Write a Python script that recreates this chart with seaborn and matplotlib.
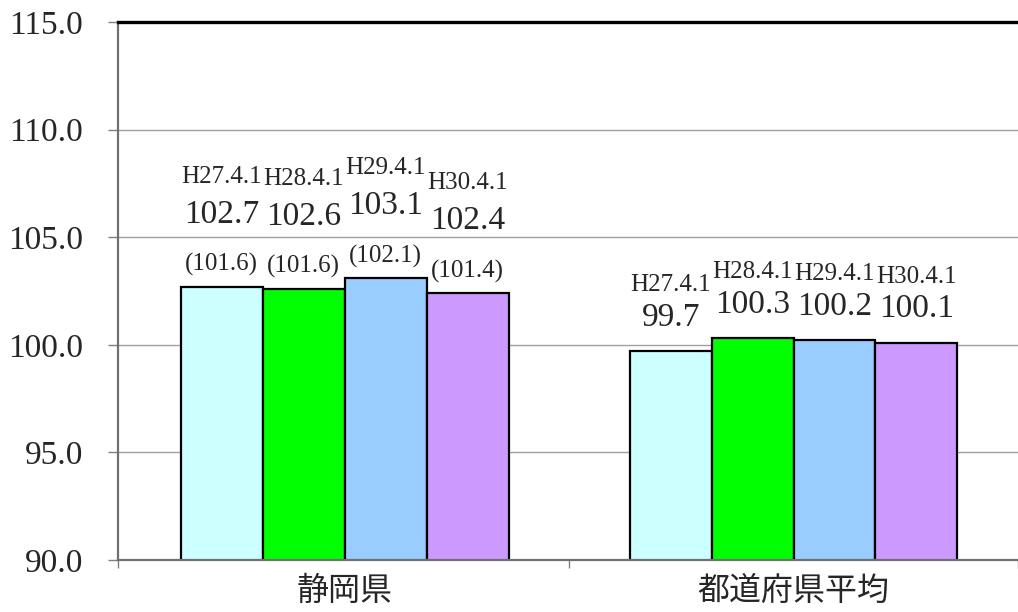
import matplotlib
matplotlib.use('Agg')
import matplotlib.pyplot as plt
import pandas as pd
import seaborn as sns

categories = ['静岡県', '都道府県平均']
dates = ['H27.4.1', 'H28.4.1', 'H29.4.1', 'H30.4.1']
shizuoka = [102.7, 102.6, 103.1, 102.4]
national = [99.7, 100.3, 100.2, 100.1]
shizuoka_paren = ['(101.6)', '(101.6)', '(102.1)', '(101.4)']
colors = ['#CCFFFF', '#00FF00', '#99CCFF', '#CC99FF']

rows = []
for d, v in zip(dates, shizuoka):
    rows.append({'cat': categories[0], 'date': d, 'value': v})
for d, v in zip(dates, national):
    rows.append({'cat': categories[1], 'date': d, 'value': v})
df = pd.DataFrame(rows)

sns.set_style('white')
plt.rcParams['font.family'] = ['Liberation Serif', 'Noto Sans CJK JP', 'DejaVu Sans']

fig = plt.figure(figsize=(10.18, 6.12), dpi=100)
ax = fig.add_axes([118 / 1018, 52 / 612, 900 / 1018, 538 / 612])

sns.barplot(data=df, x='cat', y='value', hue='date', palette=colors, saturation=1,
            width=0.73, edgecolor='black', linewidth=1.6, legend=False, ax=ax)

# axis runs past the right edge of the picture (second category cut)
x_lo, x_hi = -0.505, 1.473
ax.set_ylim(90, 115)
ax.set_xlim(x_lo, x_hi)
ax.set_yticks([90, 95, 100, 105, 110, 115])
ax.set_yticklabels(['%.1f' % t for t in [90, 95, 100, 105, 110, 115]], fontsize=24)
ax.yaxis.grid(True, color='#A0A0A0', linewidth=1)
ax.set_axisbelow(True)
ax.tick_params(axis='y', length=7, width=1, color='#808080', pad=18, left=True)

# category labels + boundary ticks
ax.set_xticks([0, 1])
ax.set_xticklabels(categories, fontsize=23, family=['Noto Sans CJK JP'])
ax.tick_params(axis='x', which='major', length=0, pad=11)
ax.set_xticks([x_lo, 0.5, 1.5], minor=True)
ax.tick_params(axis='x', which='minor', length=6, width=1, color='#808080', bottom=True)
ax.set_xlabel('')
ax.set_ylabel('')

for s in ['left', 'bottom']:
    ax.spines[s].set_color('#707070')
    ax.spines[s].set_linewidth(1.6)
ax.spines['top'].set_color('black')
ax.spines['top'].set_linewidth(2.4)
ax.spines['right'].set_visible(False)

# labels above bars
for i, cont in enumerate(ax.containers):
    for j, bar in enumerate(cont):
        x = bar.get_x() + bar.get_width() / 2
        top = bar.get_height()
        if j == 0:
            ax.annotate(shizuoka_paren[i], (x, top), xytext=(0, 22), textcoords='offset pixels',
                        ha='center', va='center', fontsize=18)
            ax.annotate('%.1f' % shizuoka[i], (x, top), xytext=(0, 72), textcoords='offset pixels',
                        ha='center', va='center', fontsize=24)
            ax.annotate(dates[i], (x, top), xytext=(0, 110), textcoords='offset pixels',
                        ha='center', va='center', fontsize=18)
        else:
            ax.annotate('%.1f' % national[i], (x, top), xytext=(0, 34), textcoords='offset pixels',
                        ha='center', va='center', fontsize=24)
            ax.annotate(dates[i], (x, top), xytext=(0, 66), textcoords='offset pixels',
                        ha='center', va='center', fontsize=18)

fig.savefig('out.png', dpi=100)
